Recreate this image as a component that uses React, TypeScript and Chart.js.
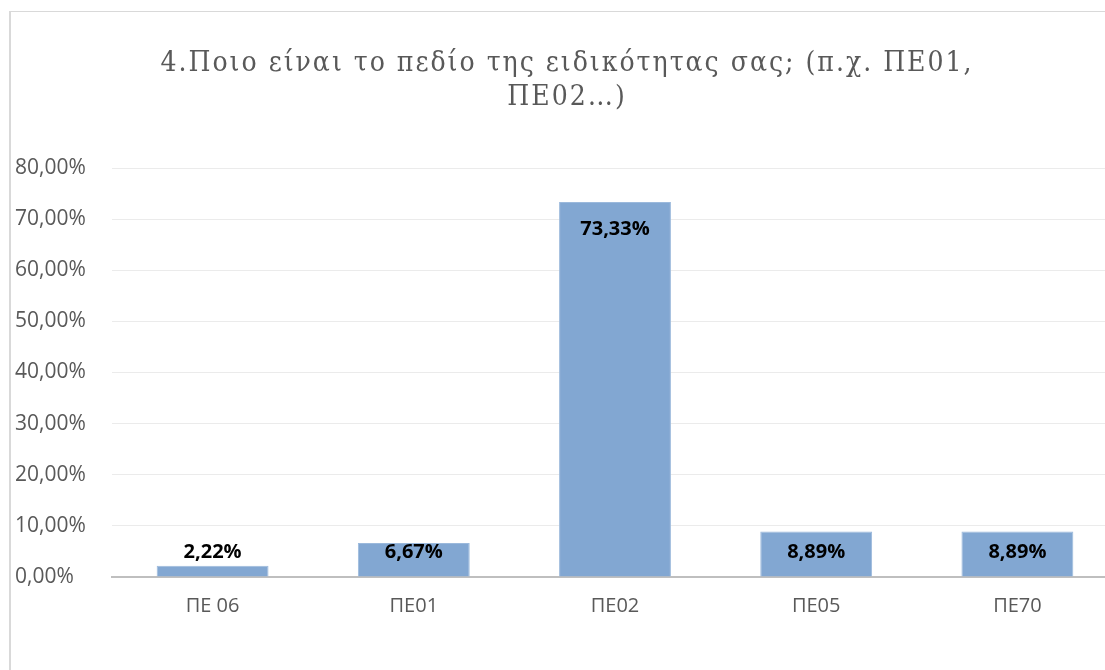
import React, { useEffect, useRef } from "react";
import { Chart, registerables } from "chart.js";

Chart.register(...registerables);

const TITLE_LINES = ["4.Ποιο είναι το πεδίο της ειδικότητας σας; (π.χ. ΠΕ01,", "ΠΕ02…)"];
const CATEGORIES = ["ΠΕ 06", "ΠΕ01", "ΠΕ02", "ΠΕ05", "ΠΕ70"];
const VALUES = [2.22, 6.67, 73.33, 8.89, 8.89];
const Y_MIN = 0;
const Y_MAX = 80;
const Y_STEP = 10;

const fmt = (v: number) => v.toFixed(2).replace(".", ",") + "%";

const titlePlugin = {
  id: "customTitle",
  afterDraw(chart: any) {
    const ctx = chart.ctx;
    ctx.save();
    ctx.font = '28px "DejaVu Serif Condensed"';
    ctx.fillStyle = "#595959";
    ctx.textAlign = "center";
    ctx.textBaseline = "middle";
    try { (ctx as any).letterSpacing = "2px"; } catch (e) {}
    const cx = chart.width / 2;
    TITLE_LINES.forEach((line, i) => {
      ctx.fillText(line, cx, 52 + i * 34);
    });
    ctx.restore();
  },
};

const labelPlugin = {
  id: "barLabels",
  afterDatasetsDraw(chart: any) {
    const ctx = chart.ctx;
    const meta = chart.getDatasetMeta(0);
    ctx.save();
    ctx.font = 'bold 20px "Open Sans"';
    ctx.fillStyle = "#000000";
    ctx.textAlign = "center";
    ctx.textBaseline = "middle";
    meta.data.forEach((el: any, i: number) => {
      const y = Math.min(el.y + 27, el.base - 24);
      ctx.fillText(fmt(VALUES[i]), el.x, y);
    });
    ctx.restore();
  },
};

export default function App() {
  const ref = useRef<HTMLCanvasElement>(null);
  useEffect(() => {
    if (!ref.current) return;
    const chart = new Chart(ref.current, {
      type: "bar",
      data: {
        labels: CATEGORIES,
        datasets: [
          {
            data: VALUES,
            backgroundColor: "#82a7d2",
            borderColor: "#9bb9dc",
            borderWidth: 1,
            barPercentage: 1,
            categoryPercentage: 0.556,
          },
        ],
      },
      options: {
        responsive: false,
        animation: false,
        layout: { padding: { left: 4, right: 5, top: 156, bottom: 47 } },
        plugins: {
          legend: { display: false },
          title: { display: false },
          tooltip: { enabled: false },
        },
        scales: {
          x: {
            grid: { display: false, drawTicks: false },
            border: { display: true, color: "#bfbfbf", width: 2 },
            ticks: {
              color: "#595959",
              font: { family: "Open Sans", size: 20 },
              padding: 17,
            },
          },
          y: {
            min: Y_MIN,
            max: Y_MAX,
            afterFit(scale: any) {
              scale.width = 97;
            },
            grid: { color: "#ebebeb", lineWidth: 1, drawTicks: false },
            border: { display: false },
            ticks: {
              stepSize: Y_STEP,
              color: "#595959",
              font: { family: "Open Sans", size: 21 },
              crossAlign: "far",
              padding: 8,
              callback: (v: any) => fmt(Number(v)),
            },
          },
        },
      },
      plugins: [titlePlugin, labelPlugin],
    });
    return () => chart.destroy();
  }, []);

  return (
    <div
      style={{
        position: "fixed",
        left: 0,
        top: 0,
        width: 1105,
        height: 670,
        overflow: "hidden",
        background: "#ffffff",
      }}
    >
      <div
        style={{
          position: "absolute",
          left: 9,
          top: 11,
          width: 1130,
          height: 700,
          borderLeft: "2px solid #d9d9d9",
          borderTop: "1px solid #d9d9d9",
        }}
      />
      <canvas
        ref={ref}
        width={1112}
        height={670}
        style={{ position: "absolute", left: 11, top: 12, width: 1112, height: 670 }}
      />
    </div>
  );
}
